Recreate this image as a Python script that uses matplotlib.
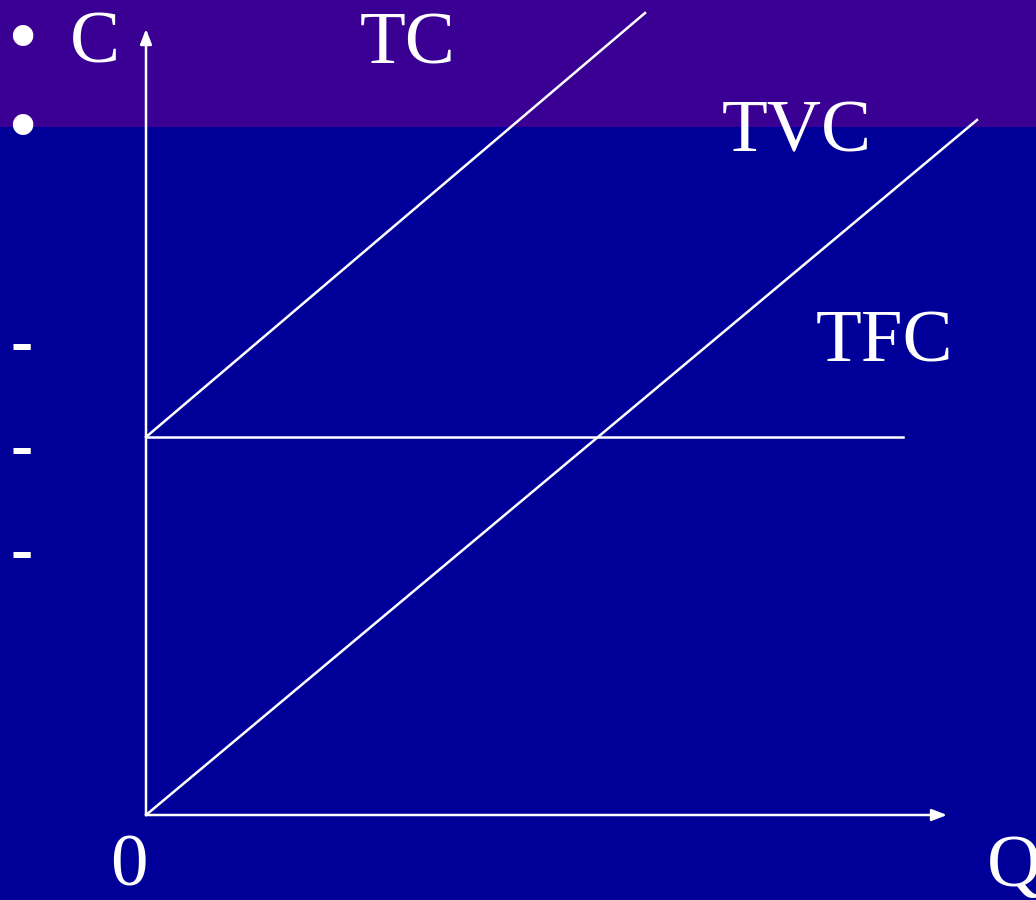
import matplotlib.pyplot as plt

# cost curves (Q, C) in chart units, origin at the axes corner
q_tfc = [0, 757]
tfc = [378, 378]
q_tvc = [0, 831]
tvc = [0, 695]
q_tc = [0, 499]
tc = [378, 802]

labels = ["TC", "TVC", "TFC"]
label_pos = [(262, 769), (651, 681), (738, 471)]

bg = "#000099"
band = "#390093"
fnt = "Liberation Serif"

fig = plt.figure(figsize=(10.36, 9), dpi=100, facecolor=bg)
ax = fig.add_axes([0, 0, 1, 1])
ax.set_facecolor(bg)
ax.set_xlim(-146, 890)
ax.set_ylim(-85, 815)
ax.axis("off")
ax.axhspan(688, 815, color=band, lw=0, zorder=0)

arrow = dict(arrowstyle="-|>,head_length=0.9,head_width=0.35", color="white", lw=1.8,
             shrinkA=0, shrinkB=0)
ax.annotate("", xy=(0, 786), xytext=(0, 0), arrowprops=arrow)
ax.annotate("", xy=(801, 0), xytext=(0, 0), arrowprops=arrow)

ax.plot(q_tfc, tfc, color="white", lw=1.8)
ax.plot(q_tvc, tvc, color="white", lw=1.8)
ax.plot(q_tc, tc, color="white", lw=1.8)

for lab, (x, y) in zip(labels, label_pos):
    ax.text(x, y, lab, color="white", fontsize=54, family=fnt, ha="center", va="center")

ax.text(-51, 770, "C", color="white", fontsize=54, family=fnt, ha="center", va="center")
ax.text(-17, -71, "0", color="white", fontsize=54, family=fnt, ha="center", va="baseline")
ax.text(868, -71, "Q", color="white", fontsize=54, family=fnt, ha="center", va="baseline")

# slide bullets on the left
for y in [772, 683]:
    ax.text(-124, y, "\u2022", color="white", fontsize=62, family=fnt, ha="center", va="center")
for y in [468, 364, 260]:
    ax.text(-124, y, "-", color="white", fontsize=48, family=fnt, ha="center", va="center",
            fontweight="bold")

fig.savefig("out.png", dpi=100, facecolor=bg)
